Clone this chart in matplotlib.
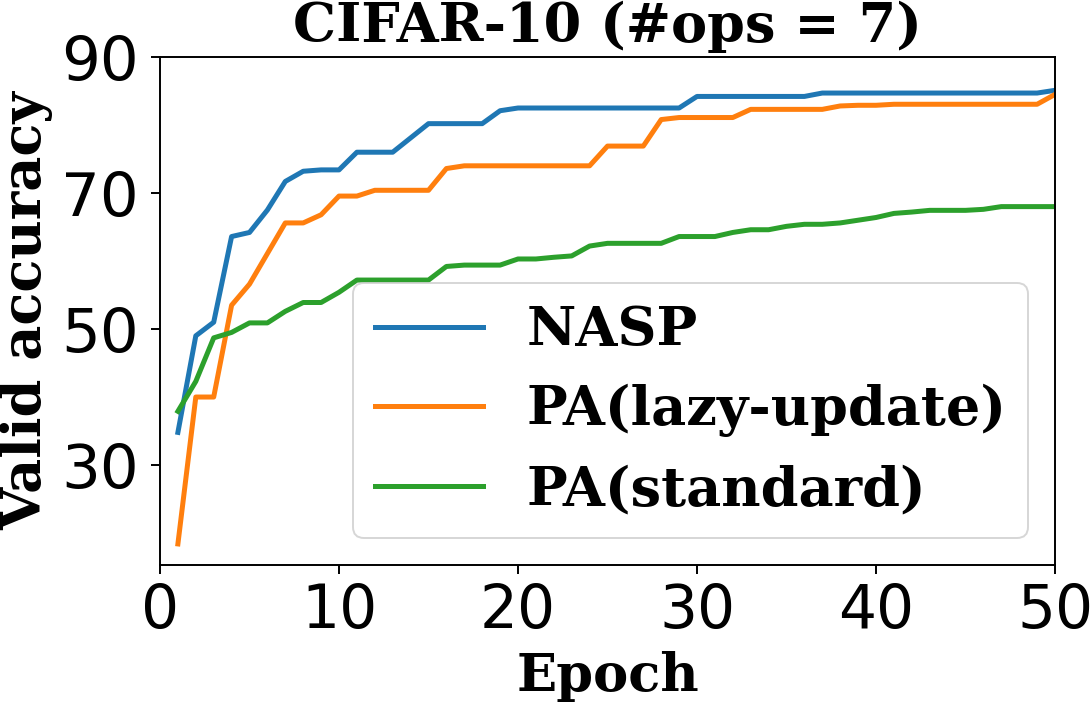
import numpy as np
import matplotlib
matplotlib.use("Agg")
import matplotlib.pyplot as plt

# ---------------- data ----------------
epochs = list(range(1, 51))
nasp = [34.8, 49.0, 51.0, 63.6, 64.2, 67.5, 71.7, 73.2, 73.4, 73.4,
        76.0, 76.0, 76.0, 78.1, 80.2, 80.2, 80.2, 80.2, 82.1, 82.5,
        82.5, 82.5, 82.5, 82.5, 82.5, 82.5, 82.5, 82.5, 82.5, 84.2,
        84.2, 84.2, 84.2, 84.2, 84.2, 84.2, 84.7, 84.7, 84.7, 84.7,
        84.7, 84.7, 84.7, 84.7, 84.7, 84.7, 84.7, 84.7, 84.7, 85.1]
pa_lazy = [18.4, 40.0, 40.0, 53.5, 56.6, 61.1, 65.6, 65.6, 66.8, 69.55,
           69.55, 70.4, 70.4, 70.4, 70.4, 73.6, 74.0, 74.0, 74.0, 74.0,
           74.0, 74.0, 74.0, 74.0, 76.9, 76.9, 76.9, 80.8, 81.1, 81.1,
           81.1, 81.1, 82.3, 82.3, 82.3, 82.3, 82.3, 82.8, 82.9, 82.9,
           83.05, 83.05, 83.05, 83.05, 83.05, 83.05, 83.05, 83.05, 83.05, 84.5]
pa_standard = [37.9, 42.3, 48.7, 49.5, 50.9, 50.9, 52.6, 53.9, 53.9, 55.4,
               57.2, 57.2, 57.2, 57.2, 57.2, 59.2, 59.4, 59.4, 59.4, 60.3,
               60.3, 60.55, 60.75, 62.2, 62.6, 62.6, 62.6, 62.6, 63.6, 63.6,
               63.6, 64.2, 64.6, 64.6, 65.1, 65.4, 65.4, 65.6, 66.0, 66.4,
               67.0, 67.2, 67.45, 67.45, 67.45, 67.6, 68.0, 68.0, 68.0, 68.0]
series_labels = ["NASP", "PA(lazy-update)", "PA(standard)"]
xticks = [0, 10, 20, 30, 40, 50]
yticks = [30, 50, 70, 90]
title = "CIFAR-10 (#ops = 7)"
xlabel = "Epoch"
ylabel = "Valid accuracy"

plt.rcParams["font.family"] = ["DejaVu Sans"]

fig = plt.figure(figsize=(10.91, 7.06), dpi=100)
ax = fig.add_axes([160 / 1091, 1 - 565 / 706, 895 / 1091, 508 / 706])

colors = ["#1f77b4", "#ff7f0e", "#2ca02c"]
for ys, lab, c in zip([nasp, pa_lazy, pa_standard], series_labels, colors):
    ax.plot(epochs, ys, color=c, lw=3.6, label=lab)

ax.set_xlim(0, 50)
ax.set_ylim(15.3, 90)
ax.set_xticks(xticks)
ax.set_yticks(yticks)
for s in ax.spines.values():
    s.set_linewidth(1.4)
ax.tick_params(axis="both", labelsize=44, length=6.2, width=1.4)
ax.tick_params(axis="x", pad=6, labelsize=43)
ax.tick_params(axis="y", pad=9)

serif = dict(family="DejaVu Serif", weight="bold")
ax.set_title(title, fontsize=39, y=1.0, pad=10.5, **serif)
ax.set_xlabel(xlabel, fontsize=38, labelpad=7, **serif)
ax.set_ylabel(ylabel, fontsize=39, labelpad=6, **serif)

leg = ax.legend(loc="lower right", prop=dict(family="DejaVu Serif", weight="bold", size=39),
                fancybox=True)
leg.get_frame().set_linewidth(1.4)

fig.savefig("out.png", dpi=100)
